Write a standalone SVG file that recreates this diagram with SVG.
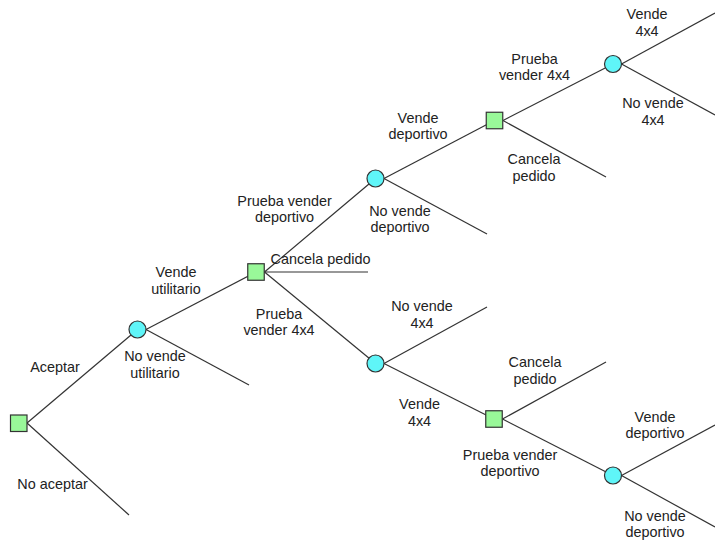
<svg xmlns="http://www.w3.org/2000/svg" width="715" height="541" viewBox="0 0 715 541">
<style>
.ln{stroke:#333;stroke-width:1.2;fill:none}
.sq{fill:#99f899;stroke:#333;stroke-width:1.2}
.ci{fill:#5ff5f8;stroke:#333;stroke-width:1.2}
text{font-family:"Liberation Sans",Arial,sans-serif;font-size:14.4px;fill:#222;text-anchor:middle}
</style>
<rect width="715" height="541" fill="#fff"/>
<g id="connectors">
<line class="ln" x1="27" y1="423" x2="137.5" y2="329.5"/>
<line class="ln" x1="27" y1="423" x2="129" y2="515"/>
<line class="ln" x1="146" y1="329.5" x2="256" y2="272"/>
<line class="ln" x1="146" y1="329.5" x2="249" y2="385"/>
<line class="ln" x1="264.5" y1="272" x2="368" y2="272"/>
<line class="ln" x1="264.5" y1="272" x2="375.5" y2="178.5"/>
<line class="ln" x1="264.5" y1="272" x2="375.5" y2="363.5"/>
<line class="ln" x1="384" y1="178.5" x2="494.5" y2="120.5"/>
<line class="ln" x1="384" y1="178.5" x2="487" y2="234"/>
<line class="ln" x1="503" y1="120.5" x2="613" y2="64"/>
<line class="ln" x1="503" y1="120.5" x2="606" y2="177"/>
<line class="ln" x1="621.5" y1="64" x2="715" y2="13"/>
<line class="ln" x1="621.5" y1="64" x2="715" y2="115"/>
<line class="ln" x1="384" y1="363.5" x2="487" y2="307"/>
<line class="ln" x1="384" y1="363.5" x2="494" y2="419"/>
<line class="ln" x1="502.5" y1="419" x2="606" y2="362"/>
<line class="ln" x1="502.5" y1="419" x2="613" y2="475.5"/>
<line class="ln" x1="621.5" y1="475.5" x2="715" y2="425"/>
<line class="ln" x1="621.5" y1="475.5" x2="715" y2="527"/>
</g>
<g id="n1"><rect class="sq" x="10.5" y="415" width="16.5" height="16.5"/></g>
<g id="n2"><circle class="ci" cx="137.5" cy="329.5" r="8.5"/></g>
<g id="n3"><rect class="sq" x="247.75" y="263.75" width="16.5" height="16.5"/></g>
<g id="n4"><circle class="ci" cx="375.5" cy="178.5" r="8.5"/></g>
<g id="n5"><rect class="sq" x="486.25" y="112.25" width="16.5" height="16.5"/></g>
<g id="n6"><circle class="ci" cx="613" cy="64" r="8.5"/></g>
<g id="n7"><circle class="ci" cx="375.5" cy="363.5" r="8.5"/></g>
<g id="n8"><rect class="sq" x="485.75" y="410.75" width="16.5" height="16.5"/></g>
<g id="n9"><circle class="ci" cx="613" cy="475.5" r="8.5"/></g>
<g id="labels">
<text x="55" y="372">Aceptar</text>
<text x="52.5" y="489">No aceptar</text>
<text x="155" y="361">No vende</text>
<text x="155" y="377.5">utilitario</text>
<text x="176" y="277">Vende</text>
<text x="176" y="293.5">utilitario</text>
<text x="284.5" y="206">Prueba vender</text>
<text x="284.5" y="222">deportivo</text>
<text x="320.5" y="263.5">Cancela pedido</text>
<text x="279" y="318.5">Prueba</text>
<text x="279" y="335">vender 4x4</text>
<text x="418" y="123">Vende</text>
<text x="418" y="139">deportivo</text>
<text x="400" y="215.5">No vende</text>
<text x="400" y="231.5">deportivo</text>
<text x="534.5" y="63.5">Prueba</text>
<text x="534.5" y="80">vender 4x4</text>
<text x="534" y="164">Cancela</text>
<text x="534" y="180.5">pedido</text>
<text x="647" y="19">Vende</text>
<text x="647" y="36">4x4</text>
<text x="653" y="107.5">No vende</text>
<text x="653" y="124.5">4x4</text>
<text x="422" y="311">No vende</text>
<text x="422" y="328">4x4</text>
<text x="419.5" y="408.5">Vende</text>
<text x="419.5" y="425.5">4x4</text>
<text x="535" y="367">Cancela</text>
<text x="535" y="383.5">pedido</text>
<text x="510" y="460">Prueba vender</text>
<text x="510" y="476">deportivo</text>
<text x="655" y="421.5">Vende</text>
<text x="655" y="438">deportivo</text>
<text x="655" y="521">No vende</text>
<text x="655" y="537">deportivo</text>
</g>
</svg>
